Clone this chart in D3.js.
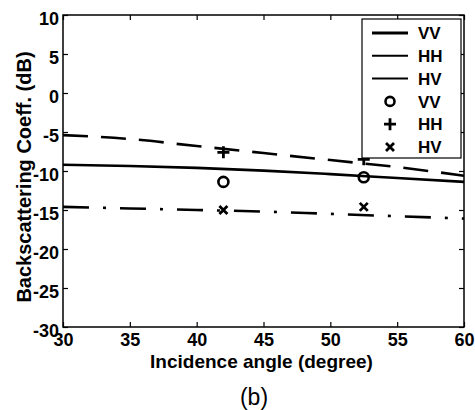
<!DOCTYPE html>
<html>
<head>
<meta charset="utf-8">
<script src="https://cdn.jsdelivr.net/npm/d3@7"></script>
<style>
    body { margin: 0; background: #fff; }
    svg text { font-family: "Liberation Sans", Arial, sans-serif; }
</style>
</head>
<body>
<div id="chart"></div>
<script>
//Model curves (lines)
var angles = [30, 35, 40, 45, 50, 55, 60];
var vvModel = [-9.2, -9.35, -9.6, -9.95, -10.4, -10.9, -11.4];
var hhModel = [-5.4, -5.9, -6.8, -7.7, -8.6, -9.5, -10.6];
var hvModel = [-14.6, -14.8, -15.0, -15.2, -15.5, -15.8, -16.1];

//Measured points (markers)
var measAngles = [42, 52.5];
var vvMeas = [-11.4, -10.8];
var hhMeas = [-7.6, -8.5];
var hvMeas = [-15.0, -14.6];

//Axis ticks and legend labels
var xTicks = [30, 35, 40, 45, 50, 55, 60];
var yTicks = [10, 5, 0, -5, -10, -15, -20, -25, -30];
var legendLabels = ['VV', 'HH', 'HV', 'VV', 'HH', 'HV'];

var width = 475;
var height = 410;
var margin = {left: 63, top: 15, right: 11, bottom: 83};

var svg = d3.select('#chart').append('svg')
    .attr('width', width)
    .attr('height', height);

var x = d3.scaleLinear().domain([30, 60]).range([margin.left, width - margin.right]);
var y = d3.scaleLinear().domain([-30, 10]).range([height - margin.bottom, margin.top]);

//Plain hyphen minus like the original figure
var plainFormat = function(d) { return String(d); };

//Axes with inward ticks on all four sides
var left = svg.append('g')
    .attr('transform', 'translate(' + x(30) + ',0)')
    .call(d3.axisLeft(y).tickValues(yTicks).tickFormat(plainFormat)
        .tickSizeInner(-5).tickSizeOuter(0).tickPadding(4));
left.selectAll('text').attr('dy', '0.5em');

var bottom = svg.append('g')
    .attr('transform', 'translate(0,' + y(-30) + ')')
    .call(d3.axisBottom(x).tickValues(xTicks).tickFormat(plainFormat)
        .tickSizeInner(-5).tickSizeOuter(0).tickPadding(6));

svg.append('g')
    .attr('transform', 'translate(' + x(60) + ',0)')
    .call(d3.axisRight(y).tickValues(yTicks).tickSizeInner(-5).tickSizeOuter(0).tickFormat(''));

svg.append('g')
    .attr('transform', 'translate(0,' + y(10) + ')')
    .call(d3.axisTop(x).tickValues(xTicks).tickSizeInner(-5).tickSizeOuter(0).tickFormat(''));

svg.selectAll('.domain').remove();
svg.selectAll('.tick line').attr('stroke', '#000').attr('stroke-width', 1.2);
svg.selectAll('.tick text')
    .attr('fill', '#000')
    .style('font-size', '18px')
    .style('font-weight', 'bold');

//Plot frame
svg.append('rect')
    .attr('x', x(30))
    .attr('y', y(10))
    .attr('width', x(60) - x(30))
    .attr('height', y(-30) - y(10))
    .attr('fill', 'none')
    .attr('stroke', '#000')
    .attr('stroke-width', 1.5);

//Lines
var line = d3.line()
    .x(function(d) { return x(d[0]); })
    .y(function(d) { return y(d[1]); })
    .curve(d3.curveMonotoneX);

var series = [
    {values: vvModel, dash: null},
    {values: hhModel, dash: '25,13'},
    {values: hvModel, dash: '26,14,3,14'}
];

series.forEach(function(s) {
    svg.append('path')
        .datum(angles.map(function(a, i) { return [a, s.values[i]]; }))
        .attr('d', line)
        .attr('fill', 'none')
        .attr('stroke', '#000')
        .attr('stroke-width', 2.6)
        .attr('stroke-dasharray', s.dash);
});

//Marker shapes
var plusPath = 'M-6,0H6M0,-6V6';
var crossPath = 'M-4,-4L4,4M-4,4L4,-4';

measAngles.forEach(function(a, i) {
    svg.append('circle')
        .attr('cx', x(a))
        .attr('cy', y(vvMeas[i]))
        .attr('r', 5)
        .attr('fill', 'none')
        .attr('stroke', '#000')
        .attr('stroke-width', 2.6);
    svg.append('path')
        .attr('transform', 'translate(' + x(a) + ',' + y(hhMeas[i]) + ')')
        .attr('d', plusPath)
        .attr('stroke', '#000')
        .attr('stroke-width', 2.8);
    svg.append('path')
        .attr('transform', 'translate(' + x(a) + ',' + y(hvMeas[i]) + ')')
        .attr('d', crossPath)
        .attr('stroke', '#000')
        .attr('stroke-width', 2.8);
});

//Legend
var legend = svg.append('g').attr('transform', 'translate(362,19)');
legend.append('rect')
    .attr('width', 99)
    .attr('height', 139)
    .attr('fill', '#fff')
    .attr('stroke', '#000')
    .attr('stroke-width', 1.2);

legendLabels.forEach(function(label, i) {
    var row = legend.append('g').attr('transform', 'translate(0,' + (14 + i * 22.8) + ')');
    if (i < 3) {
        row.append('line')
            .attr('x1', 10).attr('x2', 46)
            .attr('stroke', '#000')
            .attr('stroke-width', i == 0 ? 3 : 2);
    } else if (i == 3) {
        row.append('circle')
            .attr('cx', 28).attr('r', 4.5)
            .attr('fill', 'none').attr('stroke', '#000').attr('stroke-width', 2.6);
    } else {
        row.append('path')
            .attr('transform', 'translate(28,0)')
            .attr('d', i == 4 ? plusPath : crossPath)
            .attr('stroke', '#000').attr('stroke-width', 2.8);
    }
    row.append('text')
        .attr('x', 56)
        .attr('dy', '0.36em')
        .style('font-size', '17px')
        .style('font-weight', 'bold')
        .text(label);
});

//Axis titles
svg.append('text')
    .attr('x', (x(30) + x(60)) / 2 - 2)
    .attr('y', 368)
    .attr('text-anchor', 'middle')
    .style('font-size', '19px')
    .style('font-weight', 'bold')
    .text('Incidence angle (degree)');

svg.append('text')
    .attr('transform', 'translate(31,177) rotate(-90)')
    .attr('text-anchor', 'middle')
    .style('font-size', '20px')
    .style('font-weight', 'bold')
    .text('Backscattering Coeff. (dB)');

svg.append('text')
    .attr('x', 254)
    .attr('y', 405)
    .attr('text-anchor', 'middle')
    .style('font-size', '23px')
    .text('(b)');
</script>
</body>
</html>
